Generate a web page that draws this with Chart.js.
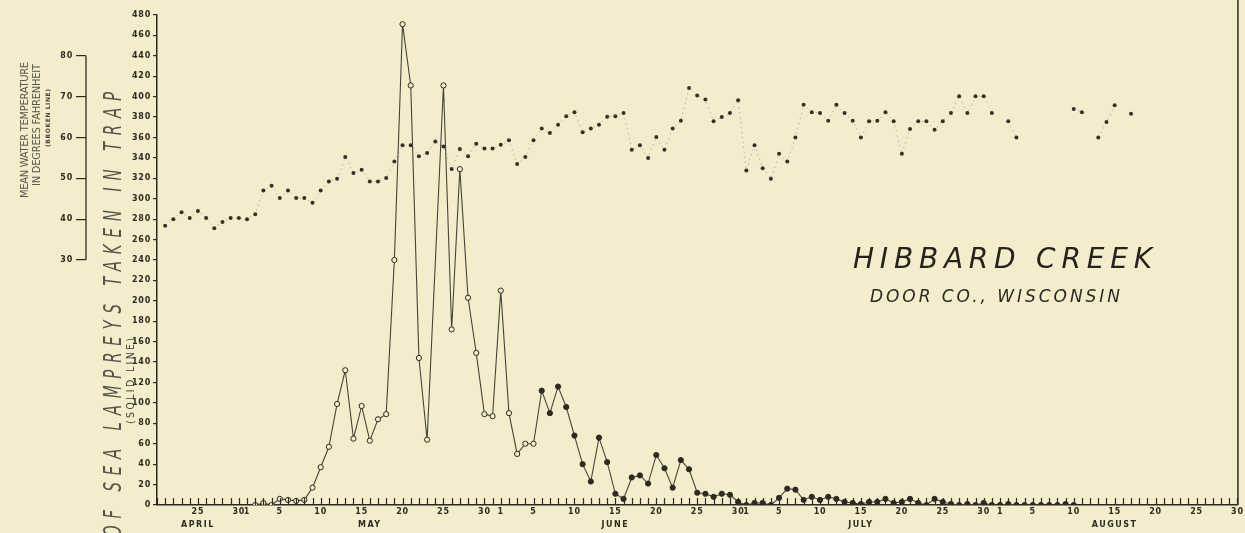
<!DOCTYPE html>
<html>
<head>
<meta charset="utf-8">
<title>Hibbard Creek - sea lampreys and water temperature</title>
<script src="https://cdn.jsdelivr.net/npm/chart.js@4.4.0/dist/chart.umd.min.js"></script>
<style>
  html, body { margin: 0; padding: 0; background: #f3edcb; }
  #wrap { width: 1245px; height: 533px; }
</style>
</head>
<body>
<div id="wrap"><canvas id="chart" width="1245" height="533"></canvas></div>
<script>
// Days on the x axis: April 20 .. August 30
const monthShort = ['Apr', 'May', 'Jun', 'Jul', 'Aug'];
const monthLengths = [30, 31, 30, 31, 31];
const firstDay = 20;
const lastDay = 30;

// Labelled days of month and month captions
const tickDays = [1, 5, 10, 15, 20, 25, 30];
const monthNames = ['APRIL', 'MAY', 'JUNE', 'JULY', 'AUGUST'];
const monthCaptionAt = ['Apr 25', 'May 16', 'Jun 15', 'Jul 15', 'Aug 15'];

// Temperature axis ticks (degrees F)
const tempTicks = [30, 40, 50, 60, 70, 80];

// Number of sea lampreys taken in trap, daily from May 2 (solid line)
const lampreyStart = 'May 2';
const lampreys = [
  0, 2, 0, 6, 5, 4, 5, 17, 37, 57,            // May 2-11
  99, 132, 65, 97, 63, 84, 89, 240, 471, 411, // May 12-21
  144, 64, null, 411, 172, 329, 203, 149, 89, 87, // May 22-31
  210, 90, 50, 60, 60, 112, 90, 116, 96, 68,  // Jun 1-10
  40, 23, 66, 42, 11, 6, 27, 29, 21, 49,      // Jun 11-20
  36, 17, 44, 35, 12, 11, 8, 11, 10, 3,       // Jun 21-30
  0, 2, 2, 0, 7, 16, 15, 5, 8, 5,             // Jul 1-10
  8, 6, 3, 2, 1, 3, 3, 6, 2, 3,               // Jul 11-20
  6, 2, 0, 6, 3, 1, 0, 1, 0, 2, 0,            // Jul 21-31
  0, 1, 0, 0, 0, 0, 0, 0, 1, 0                // Aug 1-10
];

// Mean water temperature, degrees F, daily from April 20 (broken line)
const tempStart = 'Apr 20';
const temperatures = [
  null, 38.4, 40.0, 41.7, 40.3, 42.0, 40.3, 37.8, 39.3, 40.3, 40.3,          // Apr 20-30
  40.0, 41.2, 47.0, 48.2, 45.2, 47.0, 45.2, 45.2, 44.0, 47.0,                // May 1-10
  49.2, 49.9, 55.2, 51.3, 52.1, 49.2, 49.2, 50.1, 54.1, 58.1,                // May 11-20
  58.1, 55.4, 56.2, 59.0, 57.8, 52.3, 57.2, 55.4, 58.5, 57.3, 57.3,          // May 21-31
  58.2, 59.3, 53.5, 55.2, 59.3, 62.2, 61.1, 63.1, 65.2, 66.2,                // Jun 1-10
  61.3, 62.2, 63.1, 65.1, 65.2, 66.0, 57.0, 58.1, 55.0, 60.1,                // Jun 11-20
  57.0, 62.2, 64.1, 72.1, 70.3, 69.3, 64.0, 65.0, 66.0, 69.1,                // Jun 21-30
  51.9, 58.1, 52.5, 49.9, 56.0, 54.1, 60.0, 68.0, 66.2, 66.0,                // Jul 1-10
  64.1, 68.0, 66.0, 64.1, 60.0, 64.0, 64.1, 66.2, 64.0, 56.0,                // Jul 11-20
  62.1, 64.0, 64.0, 61.9, 64.0, 66.0, 70.1, 66.0, 70.1, 70.1, 66.0,          // Jul 21-31
  null, 64.0, 60.0, null, null, null, null, null, null, 67.0,                // Aug 1-10
  66.2, null, 60.0, 63.8, 67.9, null, 65.8                                   // Aug 11-17
];

const INK = '#2d2923';
const BG = '#f3edcb';
const FONT = "'DejaVu Sans', 'Liberation Sans', sans-serif";

// build the day labels
const dayLabels = [];
const dayOfMonth = [];
monthShort.forEach((m, mi) => {
  const from = mi === 0 ? firstDay : 1;
  const to = mi === monthShort.length - 1 ? lastDay : monthLengths[mi];
  for (let d = from; d <= to; d++) {
    dayLabels.push(m + ' ' + d);
    dayOfMonth.push(d);
  }
});

const alignTo = (arr, start) => {
  const off = dayLabels.indexOf(start);
  return dayLabels.map((_, i) => {
    const v = arr[i - off];
    return v === undefined ? null : v;
  });
};
const lampreyData = alignTo(lampreys, lampreyStart);
const tempData = alignTo(temperatures, tempStart);
const filledFrom = dayLabels.indexOf('Jun 6');

// text along a vertical line, fitted to a length
function verticalText(ctx, str, x, yStart, length, size, squeeze, color, style) {
  ctx.save();
  ctx.translate(x, yStart);
  ctx.rotate(-Math.PI / 2);
  ctx.scale(squeeze, 1);
  ctx.font = (style || '') + ' ' + size + 'px ' + FONT;
  ctx.letterSpacing = '0px';
  const w0 = ctx.measureText(str).width;
  const sp = (length / squeeze - w0) / (str.length - 1);
  ctx.letterSpacing = sp + 'px';
  ctx.fillStyle = color;
  ctx.textAlign = 'left';
  ctx.textBaseline = 'middle';
  ctx.fillText(str, 0, 0);
  ctx.restore();
}

function fittedText(ctx, str, x, y, length, size, color, style) {
  ctx.save();
  ctx.font = (style || '') + ' ' + size + 'px ' + FONT;
  ctx.letterSpacing = '0px';
  const w0 = ctx.measureText(str).width;
  ctx.letterSpacing = ((length - w0) / (str.length - 1)) + 'px';
  ctx.fillStyle = color;
  ctx.textAlign = 'left';
  ctx.textBaseline = 'alphabetic';
  ctx.fillText(str, x, y);
  ctx.restore();
}

const extras = {
  id: 'extras',
  beforeDraw(chart) {
    const ctx = chart.ctx;
    ctx.save();
    ctx.fillStyle = BG;
    ctx.fillRect(0, 0, chart.width, chart.height);
    ctx.restore();
    ctx.letterSpacing = '0.8px';
  },
  afterDraw(chart) {
    const ctx = chart.ctx;
    const area = chart.chartArea;
    const x = chart.scales.x;
    const yT = chart.scales.yT;
    ctx.letterSpacing = '0px';

    // daily tick marks standing on the base line
    ctx.save();
    ctx.strokeStyle = INK;
    ctx.lineWidth = 1.2;
    ctx.beginPath();
    dayLabels.forEach((_, i) => {
      const px = Math.round(x.getPixelForValue(i)) + 0.5;
      ctx.moveTo(px, area.bottom);
      ctx.lineTo(px, area.bottom - 7);
    });
    ctx.stroke();

    // temperature scale bracket
    ctx.lineWidth = 1.3;
    ctx.beginPath();
    ctx.moveTo(yT.right, yT.getPixelForValue(tempTicks[0]));
    ctx.lineTo(yT.right, yT.getPixelForValue(tempTicks[tempTicks.length - 1]));
    ctx.stroke();

    // rule at the right edge
    ctx.lineWidth = 1.5;
    ctx.beginPath();
    ctx.moveTo(area.right + 0.5, 0);
    ctx.lineTo(area.right + 0.5, area.bottom);
    ctx.stroke();

    // month captions
    ctx.fillStyle = INK;
    ctx.font = 'bold 8px ' + FONT;
    ctx.letterSpacing = '1.5px';
    ctx.textAlign = 'center';
    ctx.textBaseline = 'middle';
    monthNames.forEach((name, i) => {
      ctx.fillText(name, x.getPixelForValue(dayLabels.indexOf(monthCaptionAt[i])), 525);
    });
    ctx.restore();

    // axis titles
    verticalText(ctx, 'MEAN WATER TEMPERATURE', 25, 198, 136, 11, 0.9, '#5a554c');
    verticalText(ctx, 'IN DEGREES FAHRENHEIT', 37, 186, 122, 11, 0.9, '#5a554c');
    verticalText(ctx, '(BROKEN LINE)', 48, 147, 58, 6, 1, '#4a453d', 'bold');
    verticalText(ctx, 'OF SEA LAMPREYS TAKEN IN TRAP', 115, 537, 445, 24, 0.62, '#57524a', 'italic');
    verticalText(ctx, '(SOLID LINE)', 131, 424, 86, 11, 0.85, '#403b34');

    // place name
    fittedText(ctx, 'HIBBARD CREEK', 853, 268, 299, 28, '#26221d', 'italic');
    fittedText(ctx, 'DOOR CO., WISCONSIN', 870, 302, 250, 17, '#2d2923', 'italic');
  }
};

new Chart(document.getElementById('chart'), {
  type: 'line',
  data: {
    labels: dayLabels,
    datasets: [
      {
        label: 'Mean water temperature (broken line)',
        data: tempData,
        yAxisID: 'yT',
        borderColor: 'rgba(55, 50, 42, 0.35)',
        borderWidth: 0.9,
        borderDash: [1.5, 3.5],
        spanGaps: false,
        tension: 0,
        pointRadius: 2,
        pointBorderWidth: 0,
        pointBackgroundColor: '#35302a',
        order: 2
      },
      {
        label: 'Sea lampreys taken in trap (solid line)',
        data: lampreyData,
        yAxisID: 'yL',
        borderColor: '#48433c',
        borderWidth: 1.1,
        spanGaps: true,
        tension: 0,
        pointRadius: 2.6,
        pointBorderWidth: 1,
        pointBorderColor: INK,
        pointBackgroundColor: ctx => ctx.dataIndex < filledFrom ? BG : INK,
        order: 1
      }
    ]
  },
  options: {
    responsive: false,
    animation: false,
    devicePixelRatio: 1,
    layout: { padding: { top: 15, right: 5, left: 0, bottom: 0 } },
    plugins: {
      legend: { display: false },
      tooltip: { enabled: false }
    },
    scales: {
      x: {
        type: 'category',
        offset: false,
        grid: { display: true, drawOnChartArea: false, drawTicks: false },
        border: { display: true, color: INK, width: 1.5 },
        ticks: {
          autoSkip: false,
          maxRotation: 0,
          minRotation: 0,
          padding: 2,
          color: INK,
          font: { family: FONT, size: 8, weight: 'bold' },
          callback: (value, index) =>
            (index > 0 && tickDays.includes(dayOfMonth[index])) ? String(dayOfMonth[index]) : ''
        },
        afterFit: s => { s.height = 28; }
      },
      yL: {
        position: 'left',
        weight: 0,
        min: 0,
        max: 480,
        grid: { drawOnChartArea: false, tickLength: 4, color: INK, lineWidth: 1.2 },
        border: { display: true, color: INK, width: 1.5 },
        ticks: {
          stepSize: 20,
          padding: 2,
          color: INK,
          font: { family: FONT, size: 8, weight: 'bold' }
        },
        afterFit: s => { s.width = 71; }
      },
      yT: {
        position: 'left',
        weight: 1,
        min: -30,
        max: 90,
        afterBuildTicks: s => { s.ticks = tempTicks.map(v => ({ value: v })); },
        grid: { drawOnChartArea: false, tickLength: 10, color: INK, lineWidth: 1.2 },
        border: { display: false },
        ticks: {
          padding: 3,
          color: INK,
          font: { family: FONT, size: 8, weight: 'bold' }
        },
        afterFit: s => { s.width = 86; }
      }
    }
  },
  plugins: [extras]
});
</script>
</body>
</html>
